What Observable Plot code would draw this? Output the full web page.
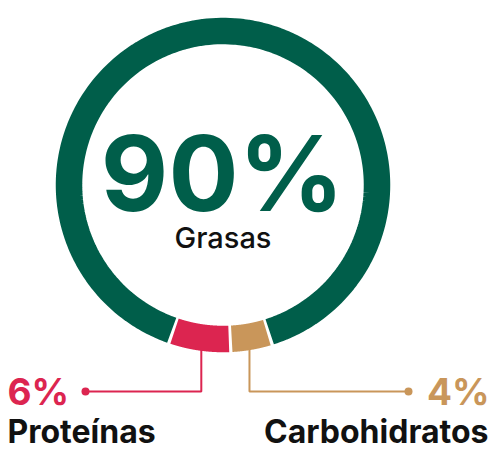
<!DOCTYPE html>
<html>
<head>
<meta charset="utf-8">
<script src="https://cdn.jsdelivr.net/npm/d3@7"></script>
<script src="https://cdn.jsdelivr.net/npm/@observablehq/plot@0.6"></script>
<style>
  html, body { margin: 0; padding: 0; background: #fff; }
  #chart svg { display: block; }
</style>
</head>
<body>
<div id="chart"></div>
<script>
// ---- data ----
const categories = ["Proteínas", "Carbohidratos", "Grasas"];
const values = [6, 4, 90];
const valueLabels = ["6%", "4%", "90%"];
const colors = ["#DC2550", "#C9965A", "#005E4A"];

// ---- layout (pixels) ----
const W = 500, H = 453;
const cx = 222.5, cy = 184.5;   // ring centre
const R = 154;                  // mid radius of the ring
const ringWidth = 26.5;
const startDeg = -108.9;        // where the first segment starts (math angle)
const padDeg = 0.55;

const toX = px => (px - cx) / R;
const toY = py => (cy - py) / R;

// arcs computed from values
const total = d3.sum(values);
let acc = startDeg;
const arcs = values.map((v, i) => {
  const a0 = acc, a1 = acc + v / total * 360;
  acc = a1;
  return {cat: categories[i], a0, a1, mid: (a0 + a1) / 2};
});

const ringPts = [];
arcs.forEach(a => {
  const n = 200;
  const s = a.a0 + padDeg, e = a.a1 - padDeg;
  for (let k = 0; k <= n; k++) {
    const t = (s + (e - s) * k / n) * Math.PI / 180;
    ringPts.push({cat: a.cat, x: Math.cos(t), y: Math.sin(t)});
  }
});

// leader lines from the two small segments
const leaderY = toY(391);
const dotX = [toX(85), toX(408)];
const leaders = [];
const dots = [];
[0, 1].forEach(i => {
  const t = arcs[i].mid * Math.PI / 180;
  const x0 = Math.cos(t);
  leaders.push({cat: categories[i], x: x0, y: Math.sin(t)});
  leaders.push({cat: categories[i], x: x0, y: leaderY});
  leaders.push({cat: categories[i], x: dotX[i], y: leaderY});
  dots.push({cat: categories[i], x: dotX[i], y: leaderY});
});

// text (baseline positions in px)
const mid = fs => 0.32 * fs;
const bigFs = 104, centerFs = 29, pctFs = 37, nameFs = 32;
const bigText = [{t: valueLabels[2], x: toX(222), y: toY(210 - mid(bigFs))}];
const centerText = [{t: categories[2], x: toX(222.5), y: toY(247 - mid(centerFs))}];
const pctLeft = [{t: valueLabels[0], cat: categories[0], x: toX(7), y: toY(404 - mid(pctFs))}];
const pctRight = [{t: valueLabels[1], cat: categories[1], x: toX(489), y: toY(404 - mid(pctFs))}];
const nameLeft = [{t: categories[0], x: toX(7), y: toY(442 - mid(nameFs))}];
const nameRight = [{t: categories[1], x: toX(488), y: toY(442 - mid(nameFs))}];

const font = "Inter, 'DejaVu Sans', sans-serif";

const chart = Plot.plot({
  width: W,
  height: H,
  margin: 0,
  x: {domain: [-1, 1], range: [cx - R, cx + R], axis: null},
  y: {domain: [-1, 1], range: [cy + R, cy - R], axis: null},
  color: {domain: categories, range: colors},
  style: {background: "#fff"},
  marks: [
    Plot.line(leaders, {x: "x", y: "y", z: "cat", stroke: "cat", strokeWidth: 2, strokeLinecap: "butt", strokeLinejoin: "miter", curve: "linear"}),
    Plot.dot(dots, {x: "x", y: "y", fill: "cat", r: 4}),
    Plot.line(ringPts, {x: "x", y: "y", z: "cat", stroke: "cat", strokeWidth: ringWidth, strokeLinecap: "butt"}),
    Plot.text(bigText, {x: "x", y: "y", text: "t", fill: colors[2], fontSize: bigFs, fontWeight: 700, fontFamily: font, textAnchor: "middle", lineAnchor: "middle"}),
    Plot.text(centerText, {x: "x", y: "y", text: "t", fill: "#111", fontSize: centerFs, fontWeight: 500, fontFamily: font, textAnchor: "middle", lineAnchor: "middle"}),
    Plot.text(pctLeft, {x: "x", y: "y", text: "t", fill: "cat", fontSize: pctFs, fontWeight: 700, fontFamily: font, textAnchor: "start", lineAnchor: "middle"}),
    Plot.text(pctRight, {x: "x", y: "y", text: "t", fill: "cat", fontSize: pctFs, fontWeight: 700, fontFamily: font, textAnchor: "end", lineAnchor: "middle"}),
    Plot.text(nameLeft, {x: "x", y: "y", text: "t", fill: "#111", fontSize: nameFs, fontWeight: 700, fontFamily: font, textAnchor: "start", lineAnchor: "middle"}),
    Plot.text(nameRight, {x: "x", y: "y", text: "t", fill: "#111", fontSize: nameFs, fontWeight: 700, fontFamily: font, textAnchor: "end", lineAnchor: "middle"})
  ]
});
document.getElementById("chart").appendChild(chart);
</script>
</body>
</html>
